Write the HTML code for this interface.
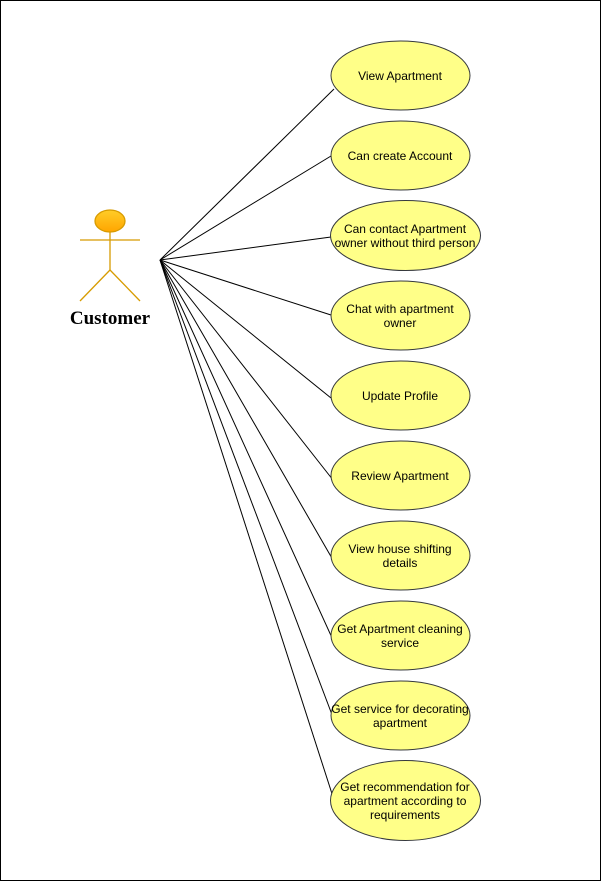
<!DOCTYPE html>
<html><head><style>body{margin:0;background:#fff}</style></head><body>
<svg width="602" height="882" xmlns="http://www.w3.org/2000/svg" font-family="Liberation Sans, sans-serif">
<rect x="0.5" y="0.5" width="600" height="880" fill="#fff" stroke="#000"/>
<defs><linearGradient id="g" x1="0" y1="0" x2="0" y2="1"><stop offset="0" stop-color="#ffcd28"/><stop offset="1" stop-color="#ffa500"/></linearGradient></defs>
<g stroke="#000" stroke-width="1">
<line x1="160" y1="260" x2="334" y2="89"/>
<line x1="160" y1="260" x2="331" y2="156"/>
<line x1="160" y1="260" x2="331" y2="237"/>
<line x1="160" y1="260" x2="331" y2="315"/>
<line x1="160" y1="260" x2="331" y2="398"/>
<line x1="160" y1="260" x2="333" y2="480"/>
<line x1="160" y1="260" x2="333" y2="560"/>
<line x1="160" y1="260" x2="333" y2="640"/>
<line x1="160" y1="260" x2="334" y2="720"/>
<line x1="160" y1="260" x2="334" y2="800"/>
</g>
<g stroke="#d79b00" stroke-width="1.3" fill="none">
<ellipse cx="110" cy="221" rx="15" ry="11" fill="url(#g)"/>
<line x1="80" y1="240" x2="140" y2="240"/>
<line x1="110" y1="232" x2="110" y2="270"/>
<line x1="110" y1="270" x2="80" y2="301"/>
<line x1="110" y1="270" x2="140" y2="301"/>
</g>
<text x="110" y="324" text-anchor="middle" font-family="Liberation Serif, serif" font-weight="bold" font-size="19">Customer</text>
<g fill="#ffff88" stroke="#36393d">
<ellipse cx="400.5" cy="75.5" rx="69.5" ry="34.5"/>
<ellipse cx="400.5" cy="155.5" rx="69.5" ry="34.5"/>
<ellipse cx="405.5" cy="235.5" rx="75" ry="35"/>
<ellipse cx="400.5" cy="315.5" rx="69.5" ry="34.5"/>
<ellipse cx="400.5" cy="395.5" rx="69.5" ry="34.5"/>
<ellipse cx="400.5" cy="475.5" rx="69.5" ry="34.5"/>
<ellipse cx="400.5" cy="555.5" rx="69.5" ry="34.5"/>
<ellipse cx="400.5" cy="635.5" rx="69.5" ry="34.5"/>
<ellipse cx="400.5" cy="715.5" rx="69.5" ry="34.5"/>
<ellipse cx="405.5" cy="800.5" rx="75" ry="40"/>
</g>
<g font-size="12" text-anchor="middle" fill="#000">
<text x="400" y="80">View Apartment</text>
<text x="400" y="160">Can create Account</text>
<text x="405" y="233">Can contact Apartment</text>
<text x="405" y="247">owner without third person</text>
<text x="400" y="313">Chat with apartment</text>
<text x="400" y="327">owner</text>
<text x="400" y="400">Update Profile</text>
<text x="400" y="480">Review Apartment</text>
<text x="400" y="553">View house shifting</text>
<text x="400" y="567">details</text>
<text x="400" y="633">Get Apartment cleaning</text>
<text x="400" y="647">service</text>
<text x="400" y="713">Get service for decorating</text>
<text x="400" y="727">apartment</text>
<text x="405" y="791">Get recommendation for</text>
<text x="405" y="805">apartment according to</text>
<text x="405" y="819">requirements</text>
</g>
</svg>
</body></html>
